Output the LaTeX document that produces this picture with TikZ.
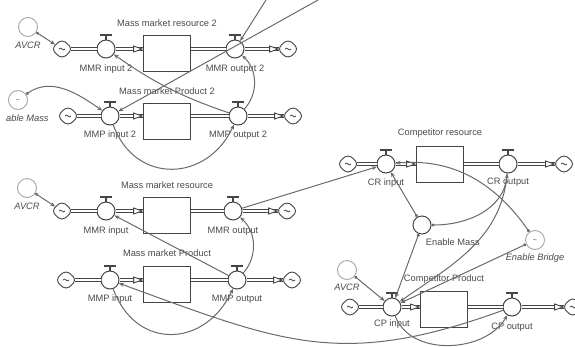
\documentclass[tikz,border=0pt]{standalone}
\usepackage{fontspec}
\setmainfont{Liberation Sans}
\usetikzlibrary{positioning,shapes.geometric,shapes.symbols,arrows.meta}
\definecolor{dk}{HTML}{454545}
\definecolor{cn}{HTML}{6A6A6A}
\definecolor{lt}{HTML}{A5A5A5}
\definecolor{tx}{HTML}{4A4A4A}

\begin{document}
\begin{tikzpicture}[x=1pt, y=-1pt, font=\fontsize{9.3}{11}\selectfont, text=tx,
	stock/.style = {draw=dk, line width=1.1pt, fill=white, minimum width=47pt, minimum height=36pt, inner sep=0pt},
	valve/.style = {draw=dk, circle, line width=1pt, fill=white, minimum size=18pt, inner sep=0pt,
		append after command={(\tikzlastnode.north) edge[draw=dk, line width=1.3pt] +(0,4pt)
			(\tikzlastnode.north) ++(-6pt,4.5pt) edge[draw=dk, line width=2.6pt] +(12pt,0)}},
	src/.style = {cloud, cloud puffs=4, cloud puff arc=120, aspect=1, draw=dk, line width=.9pt, fill=white, minimum width=17pt, minimum height=16pt, inner sep=0pt,
		path picture={\draw[dk, line width=.8pt] (path picture bounding box.center) ++(-3pt,0) to[out=90, in=90] ++(3pt,0) to[out=-90, in=-90] ++(3pt,0);}},
	tip/.style = {isosceles triangle, isosceles triangle apex angle=60, isosceles triangle stretches, draw=dk, line width=.9pt, fill=white, minimum width=6pt, minimum height=8.5pt, inner sep=0pt},
	pipe/.style = {draw=dk, line width=1.1pt, double=white, double distance=1.5pt},
	conn/.style = {draw=cn, line width=1pt, -{Stealth[length=5pt, width=4pt]}},
	dot/.style = {{Circle[length=3pt]}-{Stealth[length=5pt, width=4pt]}},
	ghost/.style = {circle, draw=lt, line width=.9pt, minimum size=19pt, inner sep=0pt},
	aux/.style = {circle, draw=dk, line width=1pt, minimum size=18pt, inner sep=0pt},
	lbl/.style = {inner sep=1pt},
	ital/.style = {inner sep=1pt, font=\fontsize{9.3}{11}\selectfont\itshape}]
	\useasboundingbox (0,0) rectangle (575,346);

	\node[ghost] (avcr1) at (28,27) {};
	\node[ital, below=4pt of avcr1] (lavcr1) {AVCR};
	\node[src] (c1) at (62,49) {};
	\node[valve] (mmrin2) at (106,49) {};
	\node[lbl, below=5pt of mmrin2] (lmmrin2) {MMR input 2};
	\node[stock] (mmr2) at (167,53.5) {};
	\node[lbl, above=7pt of mmr2] (lmmr2) {Mass market resource 2};
	\node[valve] (mmrout2) at (235,49) {};
	\node[lbl, below=5pt of mmrout2] (lmmrout2) {MMR output 2};
	\node[src] (c2) at (288,49) {};
	\draw[pipe] (c1) -- (mmrin2);
	\draw[pipe] (mmrin2) -- (mmrin2 -| mmr2.west);
	\node[tip, anchor=apex] (t1) at (mmrin2 -| mmr2.west) {};
	\draw[pipe] (mmrout2 -| mmr2.east) -- (mmrout2);
	\draw[pipe] (mmrout2) -- (c2);
	\node[tip, anchor=apex] (t2) at (c2.west) {};

	\node[ghost] (em1) at (18,100) {\scriptsize\raisebox{-4pt}{\textasciitilde}};
	\node[ital, anchor=west] (lem1) at (5,118) {able Mass};
	\node[src] (c3) at (68,116) {};
	\node[valve] (mmpin2) at (110,116) {};
	\node[lbl, below=4.5pt of mmpin2] (lmmpin2) {MMP input 2};
	\node[stock] (mmp2) at (167,121.5) {};
	\node[lbl, above=7pt of mmp2] (lmmp2) {Mass market Product 2};
	\node[valve] (mmpout2) at (238,116) {};
	\node[lbl, below=4.5pt of mmpout2] (lmmpout2) {MMP output 2};
	\node[src] (c4) at (293,116) {};
	\draw[pipe] (c3) -- (mmpin2);
	\draw[pipe] (mmpin2) -- (mmpin2 -| mmp2.west);
	\node[tip, anchor=apex] (t3) at (mmpin2 -| mmp2.west) {};
	\draw[pipe] (mmpout2 -| mmp2.east) -- (mmpout2);
	\draw[pipe] (mmpout2) -- (c4);
	\node[tip, anchor=apex] (t4) at (c4.west) {};

	\node[ghost] (avcr3) at (27,188) {};
	\node[ital, below=4pt of avcr3] (lavcr3) {AVCR};
	\node[src] (c5) at (62,211) {};
	\node[valve] (mmrin) at (106,211) {};
	\node[lbl, below=5pt of mmrin] (lmmrin) {MMR input};
	\node[stock] (mmr) at (167,215.5) {};
	\node[lbl, above=7pt of mmr] (lmmr) {Mass market resource};
	\node[valve] (mmrout) at (233,211) {};
	\node[lbl, below=5pt of mmrout] (lmmrout) {MMR output};
	\node[src] (c6) at (287,211) {};
	\draw[pipe] (c5) -- (mmrin);
	\draw[pipe] (mmrin) -- (mmrin -| mmr.west);
	\node[tip, anchor=apex] (t5) at (mmrin -| mmr.west) {};
	\draw[pipe] (mmrout -| mmr.east) -- (mmrout);
	\draw[pipe] (mmrout) -- (c6);
	\node[tip, anchor=apex] (t6) at (c6.west) {};

	\node[src] (c7) at (66,280) {};
	\node[valve] (mmpin) at (110,280) {};
	\node[lbl, below=4.5pt of mmpin] (lmmpin) {MMP input};
	\node[stock] (mmp) at (167,284.5) {};
	\node[lbl, above=8pt of mmp] (lmmp) {Mass market Product};
	\node[valve] (mmpout) at (237,280) {};
	\node[lbl, below=4.5pt of mmpout] (lmmpout) {MMP output};
	\node[src] (c8) at (292,280) {};
	\draw[pipe] (c7) -- (mmpin);
	\draw[pipe] (mmpin) -- (mmpin -| mmp.west);
	\node[tip, anchor=apex] (t7) at (mmpin -| mmp.west) {};
	\draw[pipe] (mmpout -| mmp.east) -- (mmpout);
	\draw[pipe] (mmpout) -- (c8);
	\node[tip, anchor=apex] (t8) at (c8.west) {};

	\node[src] (c9) at (348,164) {};
	\node[valve] (crin) at (386,164) {};
	\node[lbl, below=4.5pt of crin] (lcrin) {CR input};
	\node[stock] (cr) at (440,164.5) {};
	\node[lbl, above=7pt of cr] (lcr) {Competitor resource};
	\node[valve] (crout) at (508,164) {};
	\node[lbl, below=3.5pt of crout] (lcrout) {CR output};
	\node[src] (c10) at (564,164) {};
	\draw[pipe] (c9) -- (crin);
	\draw[pipe] (crin) -- (crin -| cr.west);
	\node[tip, anchor=apex] (t9) at (crin -| cr.west) {};
	\draw[pipe] (crout -| cr.east) -- (crout);
	\draw[pipe] (crout) -- (c10);
	\node[tip, anchor=apex] (t10) at (c10.west) {};

	\node[aux] (emass) at (422,225) {};
	\node[lbl, below right=6pt and -4pt of emass] (lemass) {Enable Mass};
	\node[ghost] (ebridge) at (535,240) {\scriptsize\raisebox{-4pt}{\textasciitilde}};
	\node[ital, below=3pt of ebridge] (lebridge) {Enable Bridge};

	\node[ghost] (avcr4) at (347,270) {};
	\node[ital, below=3pt of avcr4] (lavcr4) {AVCR};
	\node[src] (c11) at (350,307) {};
	\node[valve] (cpin) at (392,307) {};
	\node[lbl, below=2pt of cpin] (lcpin) {CP input};
	\node[stock] (cp) at (444,309.5) {};
	\node[lbl, above=6pt of cp] (lcp) {Competitor Product};
	\node[valve] (cpout) at (512,307) {};
	\node[lbl, below=5pt of cpout] (lcpout) {CP output};
	\node[src] (c12) at (573,307) {};
	\draw[pipe] (c11) -- (cpin);
	\draw[pipe] (cpin) -- (cpin -| cp.west);
	\node[tip, anchor=apex] (t11) at (cpin -| cp.west) {};
	\draw[pipe] (cp.east |- cpout) -- (cpout);
	\draw[pipe] (cpout) -- (c12);
	\node[tip, anchor=apex] (t12) at (c12.west) {};

	\coordinate (topA) at (318,0);
	\coordinate (topB) at (266,0);
	\draw[conn] (topA) -- (mmpin2);
	\draw[conn] (topB) -- (mmrout2);
	\draw[conn, dot] (avcr1) -- (c1);
	\draw[conn] (mmpout2) to[bend left=8] (mmrin2);
	\draw[conn, dot] (em1) to[out=35, in=145] (mmpin2);
	\draw[conn] (mmpout2) to[bend right=45] (mmrout2);
	\draw[conn] (mmpin2) to[out=-70, in=-115, looseness=1.35] (mmpout2);

	\draw[conn, dot] (avcr3) -- (c5);
	\draw[conn] (mmrout) -- (crin);
	\draw[conn] (mmpout) -- (mmrin);
	\draw[conn] (mmpout) to[bend right=45] (mmrout);
	\draw[conn] (mmpin) to[out=-70, in=-115, looseness=1.4] (mmpout);
	\draw[conn] (cpout) to[out=-160, in=-20, looseness=1.15] (mmpin);

	\draw[conn, dot] (emass) -- (crin);
	\draw[conn, dot] (emass) to[out=0, in=-95] (crout);
	\draw[conn, dot] (ebridge) to[out=125, in=5] (crin);
	\draw[conn, dot] (emass) -- (cpin);
	\draw[conn] (crout) to[out=-95, in=35] (cpin);
	\draw[conn, dot] (ebridge) -- (cpin);
	\draw[conn, dot] (avcr4) -- (cpin);
	\draw[conn] (cpin) to[out=-70, in=-120] (cpout);
\end{tikzpicture}
\end{document}
